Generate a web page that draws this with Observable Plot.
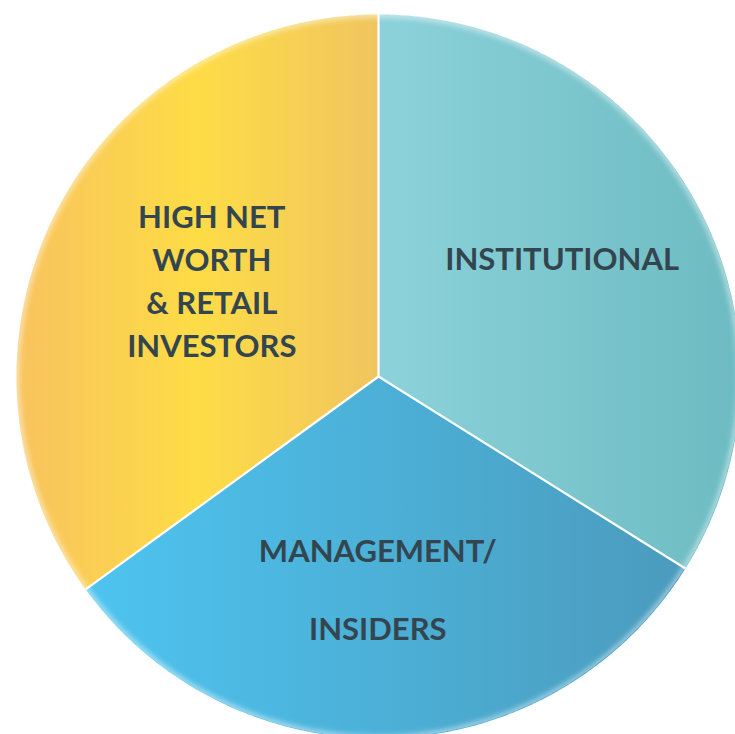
<!DOCTYPE html>
<html>
<head>
<meta charset="utf-8">
<script src="https://cdn.jsdelivr.net/npm/d3@7"></script>
<script src="https://cdn.jsdelivr.net/npm/@observablehq/plot@0.6"></script>
<style>
  html, body { margin: 0; padding: 0; background: #ffffff; overflow: hidden; }
  #chart svg { display: block; }
</style>
</head>
<body>
<div id="chart"></div>
<script>
// ---- data (slice angles ≈ 122°, 112°, 126°) ----
const categories = ["Institutional", "Management/Insiders", "High Net Worth & Retail Investors"];
const shares = [33.9, 31.1, 35.0];
const labels = ["INSTITUTIONAL", "MANAGEMENT/\n\nINSIDERS", "HIGH NET\nWORTH\n& RETAIL\nINVESTORS"];
const gradientIds = ["gInst", "gMgmt", "gHnw"];

// ---- geometry from d3.pie (clockwise from 12 o'clock) ----
const pie = d3.pie().sort(null).value((d) => d.share);
const arcs = pie(categories.map((c, i) => ({category: c, share: shares[i], label: labels[i]})));

const slicePts = [];
for (const a of arcs) {
  const cat = a.data.category;
  slicePts.push({cat, x: 0, y: 0});
  const n = Math.max(2, Math.ceil((a.endAngle - a.startAngle) / (Math.PI / 360)));
  for (let k = 0; k <= n; k++) {
    const t = a.startAngle + (a.endAngle - a.startAngle) * k / n;
    slicePts.push({cat, x: Math.sin(t), y: -Math.cos(t)});
  }
  slicePts.push({cat, x: 0, y: 0});
}
const rimPts = d3.range(0, 721).map((k) => ({x: Math.sin(k * Math.PI / 360), y: -Math.cos(k * Math.PI / 360)}));
const seps = arcs.map((a) => ({x1: 0, y1: 0, x2: Math.sin(a.startAngle), y2: -Math.cos(a.startAngle)}));

function labelPos(a, r) {
  const m = (a.startAngle + a.endAngle) / 2;
  return {x: r * Math.sin(m), y: -r * Math.cos(m)};
}
const lab = arcs.map((a, i) => ({...a.data, ...labelPos(a, [0.58, 0.585, 0.52][i])}));

const font = "Lato, 'Open Sans', sans-serif";
const plot = Plot.plot({
  width: 735,
  height: 734,
  margin: 0,
  style: {background: "transparent", fontFamily: font},
  x: {domain: [-1, 1], range: [16, 740], axis: null},
  y: {domain: [-1, 1], range: [14, 738], axis: null},
  color: {domain: categories, range: gradientIds.map((g) => `url(#${g})`)},
  marks: [
    Plot.line(slicePts, {x: "x", y: "y", z: "cat", fill: "cat", stroke: "none"}),
    Plot.line(rimPts, {x: "x", y: "y", stroke: "#ffffff", strokeWidth: 7, strokeOpacity: 0.45}),
    Plot.link(seps, {x1: "x1", y1: "y1", x2: "x2", y2: "y2", stroke: "#ffffff", strokeWidth: 2.2}),
    Plot.text(lab.filter((d) => d.category === categories[0]), {x: "x", y: "y", text: "label", fill: "#33464f", fontSize: 31, fontWeight: 700, dx: 0, dy: -15}),
    Plot.text(lab.filter((d) => d.category === categories[1]), {x: "x", y: "y", text: "label", fill: "#33464f", fontSize: 31, fontWeight: 700, lineHeight: 1.26, dx: -8, dy: 0}),
    Plot.text(lab.filter((d) => d.category === categories[2]), {x: "x", y: "y", text: "label", fill: "#33464f", fontSize: 31, fontWeight: 700, lineHeight: 1.39, dx: 1, dy: -12})
  ]
});

const defs = `
<defs>
  <linearGradient id="gInst" x1="0" x2="1" y1="0" y2="0">
    <stop offset="0" stop-color="#8cd2db"/>
    <stop offset="1" stop-color="#6dbbc2"/>
  </linearGradient>
  <linearGradient id="gMgmt" x1="0" x2="1" y1="0" y2="0">
    <stop offset="0" stop-color="#4dc4f0"/>
    <stop offset="1" stop-color="#4b9bbd"/>
  </linearGradient>
  <linearGradient id="gHnw" x1="0" x2="1" y1="0" y2="0">
    <stop offset="0" stop-color="#f8c35e"/>
    <stop offset="0.5" stop-color="#fedc46"/>
    <stop offset="1" stop-color="#f0c55f"/>
  </linearGradient>
  <filter id="soft" x="-5%" y="-5%" width="110%" height="110%">
    <feGaussianBlur stdDeviation="2.5"/>
  </filter>
  <clipPath id="pieClip"><circle cx="378" cy="376" r="362"/></clipPath>
</defs>`;
plot.insertAdjacentHTML("afterbegin", defs);
// soften the outer rim: blur the white rim stroke and keep it inside the disc
const gs = plot.querySelectorAll(":scope > g");
const rimG = gs[1];
if (rimG) {
  rimG.setAttribute("filter", "url(#soft)");
  const wrap = document.createElementNS("http://www.w3.org/2000/svg", "g");
  wrap.setAttribute("clip-path", "url(#pieClip)");
  rimG.parentNode.insertBefore(wrap, rimG);
  wrap.appendChild(rimG);
}
document.getElementById("chart").appendChild(plot);
</script>
</body>
</html>
